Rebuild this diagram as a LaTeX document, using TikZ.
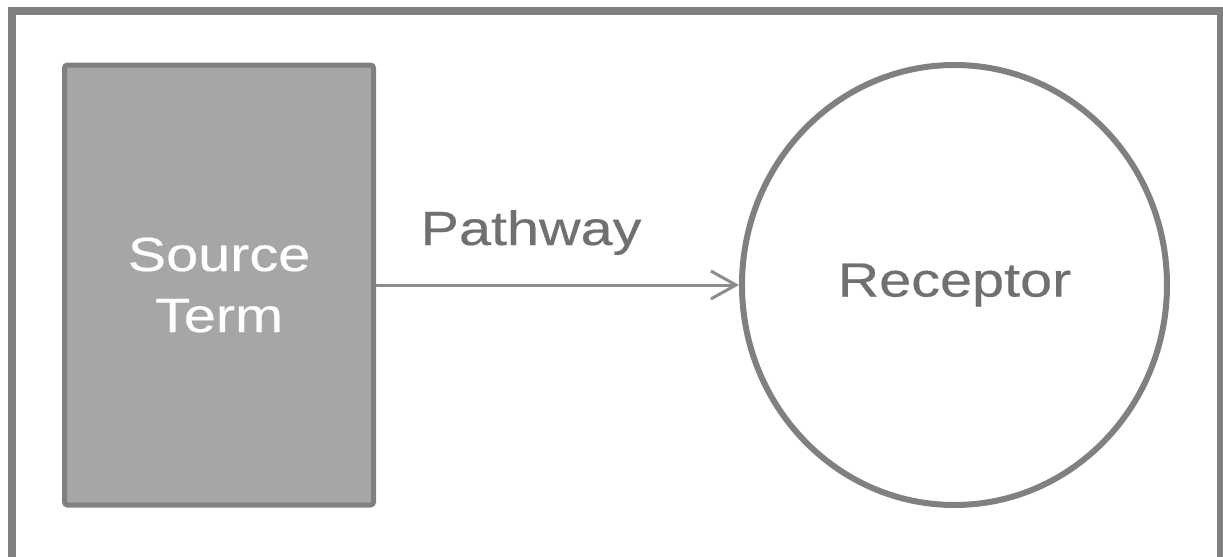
\documentclass[tikz,border=0pt]{standalone}
\usepackage{fontspec}
\setmainfont[FakeStretch=1.2,FakeBold=0.4]{Liberation Sans}
\usetikzlibrary{arrows.meta,shapes.geometric}

\definecolor{framegray}{HTML}{808080}
\definecolor{boxgray}{HTML}{A6A6A6}
\definecolor{linegray}{HTML}{8C8C8C}
\definecolor{textgray}{HTML}{707070}

\begin{document}
\begin{tikzpicture}[x=0.5pt,y=-0.5pt,
		every node/.style={font=\fontsize{24}{30.5}\selectfont},
		source/.style={draw=framegray,fill=boxgray,line width=2.5pt,rounded corners=1.5pt,
			minimum width=154.5pt,minimum height=220pt,text=white,align=center},
		receptor/.style={draw=framegray,ellipse,line width=3pt,minimum width=212.5pt,
			minimum height=220pt,text=textgray,inner sep=0pt}]
			\useasboundingbox (0,0) rectangle (1223,557);
			\begin{scope}
				\clip (0,0) rectangle (1223,557);
				\draw[framegray,line width=4pt] (11.5,580) |- (1221,11) -- (1221,580);	% outer frame
			\end{scope}
			\node[source] (src) at (219,285)	{Source\\Term};
			\node[receptor] (rec) at (954.5,285)	{Receptor};
			\draw[-{Straight Barb[length=12.5pt,width=14pt]},linegray,line width=1.5pt] (src) -- (rec);
			\node[text=textgray,anchor=base] (path) at (531,245)	{Pathway};
		\end{tikzpicture}
\end{document}
